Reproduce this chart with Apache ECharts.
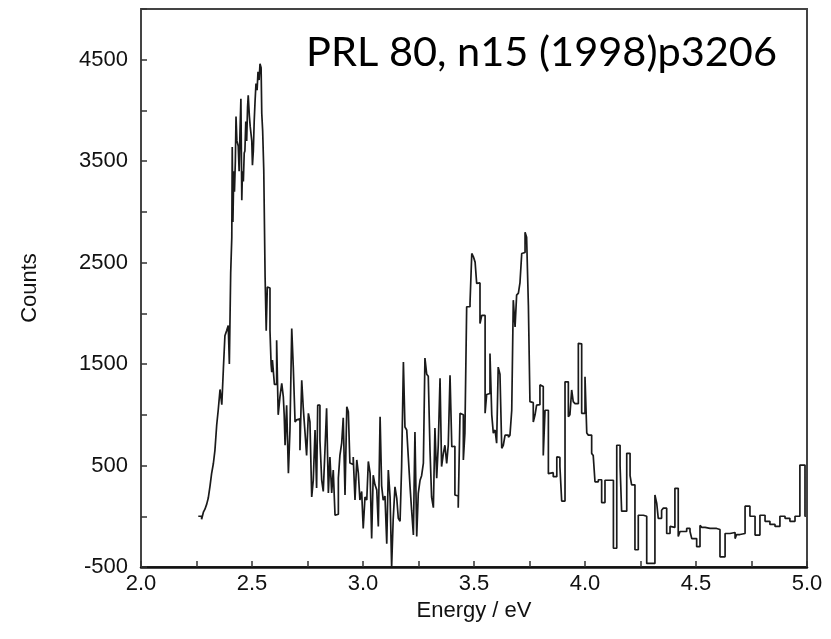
<!DOCTYPE html>
<html>
<head>
<meta charset="utf-8">
<script src="https://cdn.jsdelivr.net/npm/echarts@6/dist/echarts.min.js"></script>
<style>
html,body{margin:0;padding:0;background:#fff;}
#chart{width:831px;height:639px;}
</style>
</head>
<body>
<div id="chart"></div>
<script>
// Bin left edges (eV)
const energies = [
2.258,2.273,2.281,2.288,2.296,2.303,2.311,2.318,2.326,2.333,2.341,2.348,2.356,2.364,2.371,2.378,2.386,2.393,2.398,2.404,
2.409,2.411,2.414,2.418,2.421,2.425,2.428,2.432,2.438,2.442,2.446,2.450,2.454,2.457,2.461,2.465,2.468,2.472,2.476,2.480,
2.483,2.488,2.492,2.499,2.502,2.506,2.510,2.514,2.518,2.523,2.527,2.532,2.536,2.541,2.544,2.548,2.553,2.559,2.564,2.569,
2.573,2.581,2.586,2.589,2.592,2.601,2.611,2.618,2.626,2.634,2.641,2.645,2.649,2.656,2.664,2.671,2.679,2.686,2.694,2.701,
2.709,2.716,2.724,2.731,2.739,2.746,2.754,2.761,2.769,2.776,2.784,2.791,2.796,2.806,2.814,2.821,2.829,2.836,2.844,2.851,
2.859,2.866,2.874,2.882,2.889,2.896,2.904,2.911,2.919,2.927,2.934,2.941,2.949,2.956,2.964,2.972,2.979,2.986,2.994,3.001,
3.009,3.017,3.024,3.032,3.039,3.046,3.054,3.062,3.069,3.077,3.084,3.091,3.099,3.107,3.114,3.122,3.129,3.136,3.144,3.152,
3.159,3.167,3.174,3.182,3.189,3.197,3.204,3.212,3.219,3.227,3.234,3.242,3.249,3.257,3.264,3.272,3.279,3.287,3.294,3.302,
3.309,3.317,3.324,3.332,3.339,3.347,3.354,3.362,3.369,3.377,3.384,3.392,3.400,3.407,3.414,3.422,3.429,3.437,3.445,3.452,
3.459,3.467,3.482,3.490,3.497,3.505,3.512,3.519,3.527,3.535,3.542,3.550,3.557,3.564,3.572,3.580,3.587,3.595,3.602,3.609,
3.617,3.625,3.632,3.640,3.655,3.662,3.670,3.677,3.685,3.692,3.700,3.707,3.715,3.722,3.730,3.737,3.745,3.752,3.760,3.767,
3.775,3.782,3.790,3.797,3.805,3.812,3.820,3.827,3.835,3.842,3.857,3.865,3.873,3.880,3.887,3.895,3.910,3.925,3.932,3.940,
3.947,3.955,3.970,3.977,3.985,4.000,4.008,4.015,4.023,4.030,4.037,4.045,4.060,4.075,4.090,4.128,4.143,4.158,4.165,4.188,
4.203,4.210,4.225,4.240,4.248,4.263,4.278,4.315,4.323,4.330,4.345,4.353,4.368,4.383,4.391,4.405,4.420,4.428,4.443,4.458,
4.473,4.481,4.503,4.518,4.526,4.541,4.563,4.593,4.608,4.631,4.653,4.676,4.683,4.698,4.721,4.743,4.766,4.788,4.811,4.833,
4.856,4.878,4.901,4.923,4.946,4.968,4.991,4.995
];
// Counts per bin
const counts = [
0,-30,40,70,120,180,300,420,520,650,900,1050,1250,1100,1450,1780,1830,1880,1500,2400,
2750,3640,2900,3400,3200,3500,3940,3700,3650,3400,3800,4115,3115,3400,3300,3580,3600,3890,3700,4030,
4150,3950,3840,3700,3460,3600,3900,4100,4265,4200,4380,4300,4460,4420,3970,3800,3410,2360,1830,2260,
2250,1830,1500,1420,1540,1300,1735,1000,1180,1310,1180,1000,700,1095,425,850,1850,1470,930,950,
960,650,1340,1065,820,600,1015,930,190,355,850,280,1095,750,355,245,670,1065,230,585,
230,455,10,20,375,600,720,970,210,1080,1030,525,510,585,160,555,425,160,245,-120,
190,160,540,425,-220,405,310,260,-100,980,300,160,200,-270,455,190,-500,-30,290,180,
-20,-50,490,1520,880,850,585,290,60,-185,830,-200,225,355,400,525,1560,1400,1380,640,
190,85,870,375,700,1360,490,620,700,520,700,1390,685,690,210,200,85,1015,1000,555,
820,2065,2100,2590,2560,2505,2295,2300,1900,1980,1980,1015,1200,1210,1605,1000,820,850,720,1470,
1400,670,700,800,780,800,1045,2130,1865,2180,2200,2300,2590,2600,2800,2750,2080,1130,1120,930,
1000,1095,1100,1295,1280,600,1045,1045,420,430,390,390,585,580,490,150,1325,980,1000,1245,
1130,1110,1705,1700,1015,1375,820,800,800,620,600,340,360,135,355,-315,700,500,50,620,
400,310,-330,10,10,0,-465,210,130,-20,60,80,-170,-100,-110,275,-200,-150,-150,-120,
-150,-220,-300,-90,-110,-120,-120,-130,-400,-170,-160,-220,-180,-170,100,0,-185,10,-50,-80,
-100,0,-20,-50,0,505,0,0
];
const xTicks = [2.0, 2.5, 3.0, 3.5, 4.0, 4.5, 5.0];
const yTicks = [-500, 500, 1500, 2500, 3500, 4500];

const data = energies.map((e, i) => [e, counts[i]]);
const chart = echarts.init(document.getElementById('chart'), null, {renderer: 'canvas'});
const labelFont = 'Liberation Sans';
chart.setOption({
  animation: false,
  backgroundColor: '#fff',
  grid: {left: 141, right: 24, top: 9, bottom: 72, show: true, borderColor: '#444', borderWidth: 2},
  xAxis: {
    type: 'value', min: 2, max: 5, interval: 0.25,
    name: 'Energy / eV', nameLocation: 'middle', nameGap: 33,
    nameTextStyle: {fontFamily: labelFont, fontSize: 22, color: '#111'},
    axisLine: {show: true, onZero: false, lineStyle: {color: '#111', width: 2.5}},
    axisTick: {show: true, inside: true, length: 6, lineStyle: {color: '#333', width: 1.5}},
    axisLabel: {
      margin: 6, fontFamily: labelFont, fontSize: 22, color: '#111',
      formatter: v => xTicks.some(t => Math.abs(t - v) < 1e-6) ? v.toFixed(1) : ''
    },
    splitLine: {show: false}
  },
  yAxis: {
    type: 'value', min: -500, max: 5000, interval: 500,
    name: 'Counts', nameLocation: 'middle', nameGap: 100, nameRotate: 90,
    nameTextStyle: {fontFamily: labelFont, fontSize: 22, color: '#111'},
    axisLine: {show: true, onZero: false, lineStyle: {color: '#444', width: 2}},
    axisTick: {show: true, inside: true, length: 6, lineStyle: {color: '#333', width: 1.5}},
    axisLabel: {
      margin: 13, fontFamily: labelFont, fontSize: 22, color: '#111',
      formatter: v => yTicks.indexOf(v) >= 0 ? String(v) : ''
    },
    splitLine: {show: false}
  },
  graphic: [{
    type: 'text', z: 100,
    style: {
      text: 'PRL 80, n15 (1998)p3206', x: 777, y: 53,
      font: '41.5px Lato', fill: '#000',
      textAlign: 'right', textVerticalAlign: 'middle', align: 'right', verticalAlign: 'middle'
    }
  }],
  series: [{
    type: 'line', step: 'end', data: data, showSymbol: false, symbol: 'none',
    lineStyle: {color: '#1a1a1a', width: 1.7}, clip: true
  }]
});
</script>
</body>
</html>
